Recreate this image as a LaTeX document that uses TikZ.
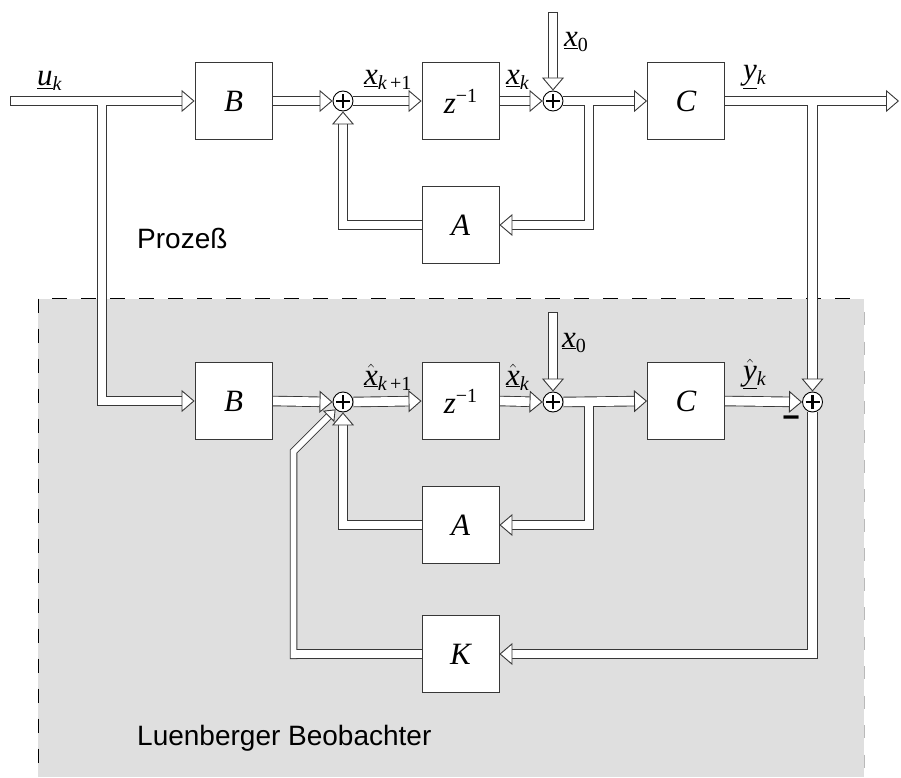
\documentclass[tikz,border=0pt]{standalone}
\usepackage[no-math]{fontspec}
\setmainfont{Liberation Serif}
\newfontfamily\sansf{Liberation Sans}
\usetikzlibrary{arrows.meta}
\definecolor{bgray}{RGB}{223,223,223}
\definecolor{edge}{RGB}{55,55,55}
\pgfdeclarelayer{back}
\pgfsetlayers{back,main}
\newcommand\ulab[2]{\underline{\itshape #1}\raisebox{-5pt}{\fontsize{20}{20}\selectfont #2}}
\newcommand\hlab[2]{\underline{$\hat{\mbox{\itshape #1}}$}\raisebox{-5pt}{\fontsize{20}{20}\selectfont #2}}
\newcommand\allbands{%
  \draw[arr,cs] (uin) -- (B1.west);
  \draw[arr] (ubr) -- (ubr2) -- (B2.west);
  \draw[arr] (B1.east) -- (s1.west);
  \draw[arr] (s1.east) -- (z1.west);
  \draw[arr] (z1.east) -- (s2.west);
  \draw[arr,cs] (x0a) -- (s2.north);
  \draw[arr] (s2.east) -- (C1.west);
  \draw[arr] (br1) -- (br1b) -- (A1.east);
  \draw[arr] (A1.west) -- (fb1) -- (s1.south);
  \draw[arr] (C1.east) -- (yout);
  \draw[arr] (ybr) -- (s5.north);
  \draw[arr] (B2.east) -- (s3.west);
  \draw[arr] (s3.east) -- (z2.west);
  \draw[arr] (z2.east) -- (s4.west);
  \draw[arr,cs] (x0b) -- (s4.north);
  \draw[arr] (s4.east) -- (C2.west);
  \draw[arr] (br2) -- (br2b) -- (A2.east);
  \draw[arr] (A2.west) -- (fb2) -- (s3.south);
  \draw[arr] (C2.east) -- (s5.west);
  \draw[arr] (s5.south) -- (kc) -- (K.east);
  \draw[plain,ce] (K.west) -- (kl);
  \draw[narr,cs] (kv) -- (kd) -- (s3.south west);
}
\begin{document}
\begin{tikzpicture}[x=1pt,y=-1pt,
  blk/.style={draw=edge, line width=0.9pt, fill=white, minimum size=77pt, inner sep=0pt,
    font=\fontsize{31}{31}\selectfont\itshape},
  sumn/.style={circle, draw=black, line width=0.9pt, fill=white, minimum size=20pt, inner sep=0pt,
    path picture={
      \draw[line width=2.4pt] ([xshift=-7pt]path picture bounding box.center) -- ([xshift=7pt]path picture bounding box.center);
      \draw[line width=2.4pt] ([yshift=-7pt]path picture bounding box.center) -- ([yshift=7pt]path picture bounding box.center);}},
  lab/.style={anchor=base west, inner sep=0pt, font=\fontsize{31}{33}\selectfont},
  ttl/.style={anchor=base west, inner sep=0pt, font=\sansf\fontsize{28}{30}\selectfont},
  outerpass/.style={
    arr/.style={line width=10.5pt, draw=edge, shorten >=13pt},
    narr/.style={line width=7.5pt, draw=edge, shorten >=10pt},
    plain/.style={line width=10.5pt, draw=edge},
    cs/.style={}, ce/.style={}},
  innerpass/.style={
    arr/.style={line width=8.7pt, draw=white,
      -{Triangle[length=13pt, width=22pt, line width=0.9pt, color=edge, fill=white]}},
    narr/.style={line width=5.7pt, draw=white,
      -{Triangle[length=10pt, width=16pt, line width=0.9pt, color=edge, fill=white]}},
    plain/.style={line width=8.7pt, draw=white},
    cs/.style={shorten <=0.9pt}, ce/.style={shorten >=0.9pt}},
]
\useasboundingbox (0,0) rectangle (901,778);

% blocks
\node[blk] (B1) at (233.5,101) {B};
\node[blk] (z1) at (460.5,101) {z\raisebox{11pt}{\fontsize{20}{20}\selectfont\upshape −1}};
\node[blk] (C1) at (686,101) {C};
\node[blk] (A1) at (460.5,225) {A};
\node[blk] (B2) at (233.5,401) {B};
\node[blk] (z2) at (460.5,401) {z\raisebox{11pt}{\fontsize{20}{20}\selectfont\upshape −1}};
\node[blk] (C2) at (686,401) {C};
\node[blk] (A2) at (460.5,525) {A};
\node[blk] (K) at (460.5,654) {K};

% summing junctions
\node[sumn] (s1) at (343,101) {};
\node[sumn] (s2) at (553,101) {};
\node[sumn] (s3) at (343,402) {};
\node[sumn] (s4) at (553,402) {};
\node[sumn] (s5) at (812.5,402) {};

% helper coordinates
\coordinate (uin) at (10,101);
\coordinate (ubr) at (102,101);
\coordinate (ubr2) at (102,401);
\coordinate (x0a) at (553,12);
\coordinate (x0b) at (553,312);
\coordinate (br1) at (589,101);
\coordinate (br1b) at (589,225);
\coordinate (fb1) at (343,225);
\coordinate (yout) at (899,101);
\coordinate (ybr) at (812.5,101);
\coordinate (br2) at (589,401);
\coordinate (br2b) at (589,525);
\coordinate (fb2) at (343,525);
\coordinate (kc) at (812.5,654);
\coordinate (kl) at (290,654);
\coordinate (kv) at (293.5,659);
\coordinate (kd) at (293.5,451.5);

\begin{pgfonlayer}{back}
  \fill[bgray] (38,298.5) rectangle (864,777);
  \draw[black, line width=1pt, dash pattern=on 15pt off 14pt, dash phase=15pt] (38,298.5) -- (864,298.5);
  \draw[black, line width=1pt, dash pattern=on 14pt off 16pt] (38,298.5) -- (38,777);
  \draw[gray!55, line width=1pt, dash pattern=on 13pt off 16.5pt] (864.5,312) -- (864.5,777);
  \begin{scope}[outerpass] \allbands \end{scope}
  \begin{scope}[innerpass] \allbands \end{scope}
\end{pgfonlayer}

% signal labels
\node[lab] (lu) at (37,86) {\ulab{u}{\itshape k}};
\node[lab] (lx1) at (364,85) {\ulab{x}{\itshape k\upshape\,+1}};
\node[lab] (lx2) at (506,85) {\ulab{x}{\itshape k}};
\node[lab] (lx0a) at (564,47) {\ulab{x}{\upshape 0}};
\node[lab] (ly) at (743,80) {\ulab{y}{\itshape k}};
\node[lab] (lxh1) at (364,385) {\hlab{x}{\itshape k\upshape\,+1}};
\node[lab] (lxh2) at (506,385) {\hlab{x}{\itshape k}};
\node[lab] (lx0b) at (562,347) {\ulab{x}{\upshape 0}};
\node[lab] (lyh) at (743,380) {\hlab{y}{\itshape k}};
\node[inner sep=0pt, font=\sansf\bfseries\fontsize{30}{30}\selectfont] (minus) at (791,422) {−};

% titles
\node[ttl] (proz) at (137,248) {Prozeß};
\node[ttl] (lueb) at (137,745) {Luenberger Beobachter};
\end{tikzpicture}
\end{document}
